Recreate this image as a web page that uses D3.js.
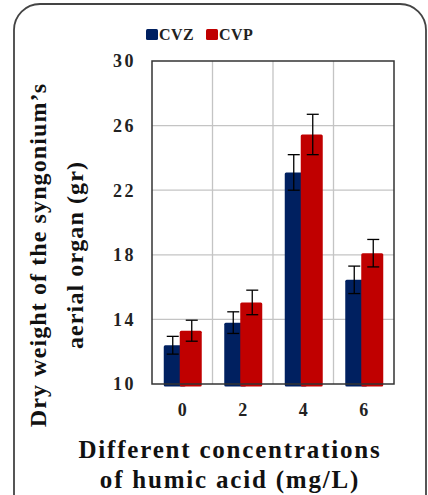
<!DOCTYPE html>
<html><head><meta charset="utf-8">
<script src="https://cdn.jsdelivr.net/npm/d3@7"></script>
<style>body{margin:0;background:#fff}svg{display:block}svg text{font-family:"Liberation Serif","DejaVu Serif",serif;font-weight:bold}</style>
</head><body>
<script>
const categories = ["0","2","4","6"];
const seriesNames = ["CVZ","CVP"];
const cvz = [12.4, 13.8, 23.1, 16.45];
const cvp = [13.3, 15.05, 25.45, 18.1];
const cvzErr = [0.55, 0.67, 1.1, 0.85];
const cvpErr = [0.65, 0.76, 1.25, 0.85];
const yTicks = [10,14,18,22,26,30];
const colors = ["#002060","#C00000"];

const W=428,H=495;
const svg=d3.select("body").append("svg").attr("width",W).attr("height",H);

svg.append("rect").attr("x",14).attr("y",4).attr("width",412).attr("height",520)
  .attr("rx",26).attr("fill","#fff").attr("stroke","#444").attr("stroke-width",1.8);

const m={l:152,r:394,t:61,b:384};
const x=d3.scaleBand().domain(categories).range([m.l,m.r]);
const y=d3.scaleLinear().domain([10,30]).range([m.b,m.t]);

const g=svg.append("g");
g.selectAll("line.h").data(yTicks.slice(1,-1)).enter().append("line")
  .attr("x1",m.l).attr("x2",m.r).attr("y1",d=>y(d)).attr("y2",d=>y(d))
  .attr("stroke","#c4c4c4").attr("stroke-width",1.3);
g.selectAll("line.v").data(categories.slice(1)).enter().append("line")
  .attr("x1",d=>x(d)).attr("x2",d=>x(d)).attr("y1",m.t).attr("y2",m.b)
  .attr("stroke","#c4c4c4").attr("stroke-width",1.3);

const bw=22;
const series=[{v:cvz,e:cvzErr,off:-18.5,c:colors[0],eo:9},{v:cvp,e:cvpErr,off:-2.5,c:colors[1],eo:12}];
series.forEach(s=>{
  g.selectAll(null).data(s.v).enter().append("rect")
    .attr("x",(d,i)=>x(categories[i])+x.bandwidth()/2+s.off).attr("width",bw)
    .attr("y",d=>y(d)).attr("height",d=>y(10)-y(d)+2.5)
    .attr("rx",1.5).attr("fill",s.c);
});
g.append("rect").attr("x",m.l).attr("y",m.t).attr("width",m.r-m.l).attr("height",m.b-m.t)
  .attr("fill","none").attr("stroke","#333").attr("stroke-width",1.5);
series.forEach(s=>{
  s.v.forEach((d,i)=>{
    const cx=x(categories[i])+x.bandwidth()/2+s.off+s.eo;
    const e=s.e[i];
    g.append("line").attr("x1",cx).attr("x2",cx).attr("y1",y(d+e)).attr("y2",y(d-e)).attr("stroke","#000").attr("stroke-width",1.3);
    [d+e,d-e].forEach(v=>g.append("line").attr("x1",cx-6).attr("x2",cx+6).attr("y1",y(v)).attr("y2",y(v)).attr("stroke","#000").attr("stroke-width",1.3));
  });
});

svg.selectAll("text.yt").data(yTicks).enter().append("text")
  .attr("x",136).attr("y",d=>y(d)).attr("dy","0.35em").attr("text-anchor","end")
  .style("font-size","18px").style("letter-spacing","2.5px").attr("fill","#222").text(d=>d);
svg.selectAll("text.xt").data(categories).enter().append("text")
  .attr("x",d=>x(d)+x.bandwidth()/2).attr("y",416).attr("text-anchor","middle")
  .style("font-size","18px").attr("fill","#222").text(d=>d);

const lg=[146,206];
seriesNames.forEach((n,i)=>{
  svg.append("rect").attr("x",lg[i]).attr("y",29).attr("width",12).attr("height",11).attr("rx",1.5).attr("fill",colors[i]);
  svg.append("text").attr("x",lg[i]+13).attr("y",40).style("font-size","16px").style("letter-spacing","0.5px").attr("fill","#222").text(n);
});

const yt=svg.append("text").attr("transform","translate(0,255) rotate(-90)")
  .attr("text-anchor","middle").style("font-size","24px").style("letter-spacing","1.1px").attr("fill","#111");
yt.append("tspan").attr("x",0).attr("y",46).text("Dry weight of the syngonium’s");
yt.append("tspan").attr("x",0).attr("y",83).text("aerial organ (gr)");

const xt=svg.append("text").attr("text-anchor","middle").style("font-size","25px").style("letter-spacing","1.8px").attr("fill","#111");
xt.append("tspan").attr("x",230).attr("y",458).text("Different concentrations");
xt.append("tspan").attr("x",230).attr("y",488).text("of humic acid (mg/L)");
</script>
</body></html>
